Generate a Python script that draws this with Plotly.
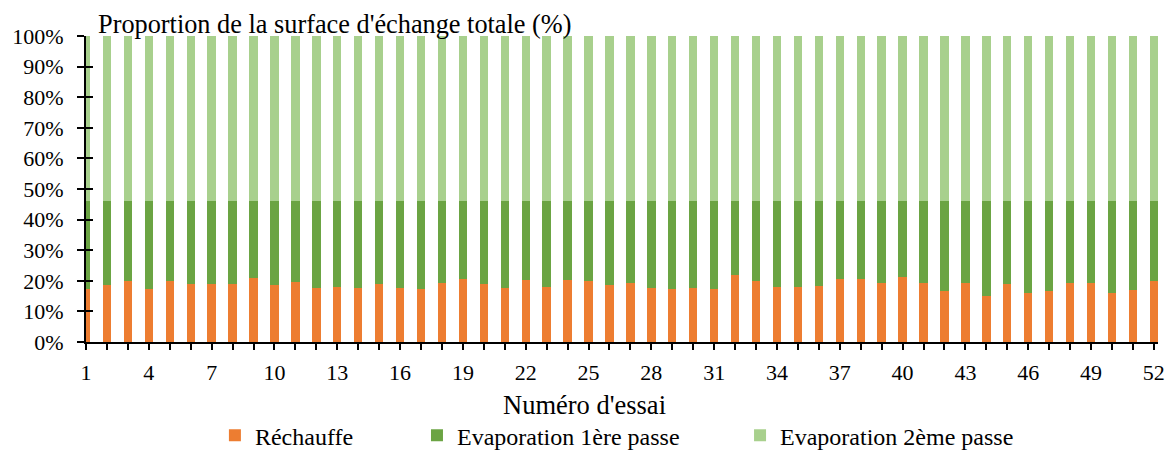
import plotly.graph_objects as go

# Trial numbers 1..52
essais = list(range(1, 53))

# Share of total exchange surface per section (%)
rechauffe = [17.4, 18.7, 20.0, 17.4, 20.0, 18.8, 19.0, 18.8, 21.0, 18.7,
             19.7, 17.5, 17.9, 17.8, 18.8, 17.8, 17.3, 19.2, 20.7, 19.0,
             17.8, 20.4, 17.9, 20.4, 20.0, 18.7, 19.3, 17.6, 17.4, 17.5,
             17.3, 22.0, 19.9, 17.9, 18.0, 18.4, 20.7, 20.7, 19.4, 21.1,
             19.4, 16.8, 19.3, 14.9, 18.8, 16.0, 16.7, 19.2, 19.4, 16.0,
             17.0, 19.9]
evap_1ere = [28.8, 27.5, 26.2, 28.8, 26.2, 27.4, 27.2, 27.4, 25.2, 27.5,
             26.5, 28.7, 28.3, 28.4, 27.4, 28.4, 28.9, 27.0, 25.5, 27.2,
             28.4, 25.8, 28.3, 25.8, 26.2, 27.5, 26.9, 28.6, 28.8, 28.7,
             28.9, 24.2, 26.3, 28.3, 28.2, 27.8, 25.5, 25.5, 26.8, 25.1,
             26.8, 29.4, 26.9, 31.3, 27.4, 30.2, 29.5, 27.0, 26.8, 30.2,
             29.2, 26.3]
evap_2eme = [53.8] * 52

tick_labels = [str(i) if (i - 1) % 3 == 0 else "" for i in essais]
y_ticks = [0, 10, 20, 30, 40, 50, 60, 70, 80, 90, 100]
y_labels = [f"{v}%" for v in y_ticks]

FONT = "Liberation Serif"

series = [
    ("Réchauffe", rechauffe, "#ED7D31", "legend"),
    ("Evaporation 1ère passe", evap_1ere, "#6BA443", "legend2"),
    ("Evaporation 2ème passe", evap_2eme, "#A8D08D", "legend3"),
]

fig = go.Figure()
for name, vals, color, leg in series:
    fig.add_trace(go.Bar(
        x=essais, y=vals, name=name, width=0.4,
        marker=dict(color=color, line=dict(width=0)),
        legend=leg, showlegend=True,
    ))

# empty trace bound to the overlay axis so its inner ticks get drawn
fig.add_trace(go.Scatter(x=[None], y=[None], yaxis="y2", mode="markers",
                         showlegend=False, hoverinfo="skip"))

legend_common = dict(
    xref="container", yref="container", yanchor="middle", y=0.036,
    xanchor="left", font=dict(family=FONT, size=24, color="#000000"),
    bgcolor="rgba(0,0,0,0)", borderwidth=0, itemwidth=30, visible=True,
)

fig.update_layout(
    barmode="stack",
    width=1168, height=452,
    showlegend=True,
    margin=dict(l=86, r=10, t=36, b=110, pad=0, autoexpand=False),
    paper_bgcolor="white", plot_bgcolor="white",
    font=dict(family=FONT, size=22, color="#000000"),
    legend=dict(x=0.184, **legend_common),
    legend2=dict(x=0.357, **legend_common),
    legend3=dict(x=0.6336, **legend_common),
    xaxis=dict(
        type="linear", range=[1, 52.2],
        tickmode="array", tickvals=essais, ticktext=tick_labels,
        showline=True, linecolor="#000000", linewidth=2,
        ticks="outside", ticklen=6, tickwidth=1.5, tickcolor="#000000",
        showgrid=False, zeroline=False, automargin=False,
        ticklabelstandoff=4,
        tickfont=dict(family=FONT, size=22, color="#000000"),
    ),
    yaxis=dict(
        type="linear", range=[0, 100],
        tickmode="array", tickvals=y_ticks, ticktext=y_labels,
        showline=True, linecolor="#000000", linewidth=2,
        ticks="outside", ticklen=7, tickwidth=2, tickcolor="#000000",
        showgrid=False, zeroline=False, automargin=False,
        ticklabelstandoff=9,
        tickfont=dict(family=FONT, size=22, color="#000000"),
    ),
    # inner half of the cross tick marks on the value axis
    yaxis2=dict(
        overlaying="y", anchor="x", side="left", type="linear", range=[0, 100],
        tickmode="array", tickvals=y_ticks, showticklabels=False,
        ticks="inside", ticklen=7, tickwidth=2, tickcolor="#000000",
        showline=False, showgrid=False, zeroline=False, automargin=False,
    ),
    annotations=[
        dict(text="Proportion de la surface d'échange totale (%)",
             xref="paper", yref="paper", x=0.0095, y=1.0376,
             xanchor="left", yanchor="middle", showarrow=False,
             font=dict(family=FONT, size=26.3, color="#000000")),
        dict(text="Numéro d'essai",
             xref="paper", yref="paper", x=0.4646, y=-0.2075,
             xanchor="center", yanchor="middle", showarrow=False,
             font=dict(family=FONT, size=26.5, color="#000000")),
    ],
)

fig.write_html("out.html")
